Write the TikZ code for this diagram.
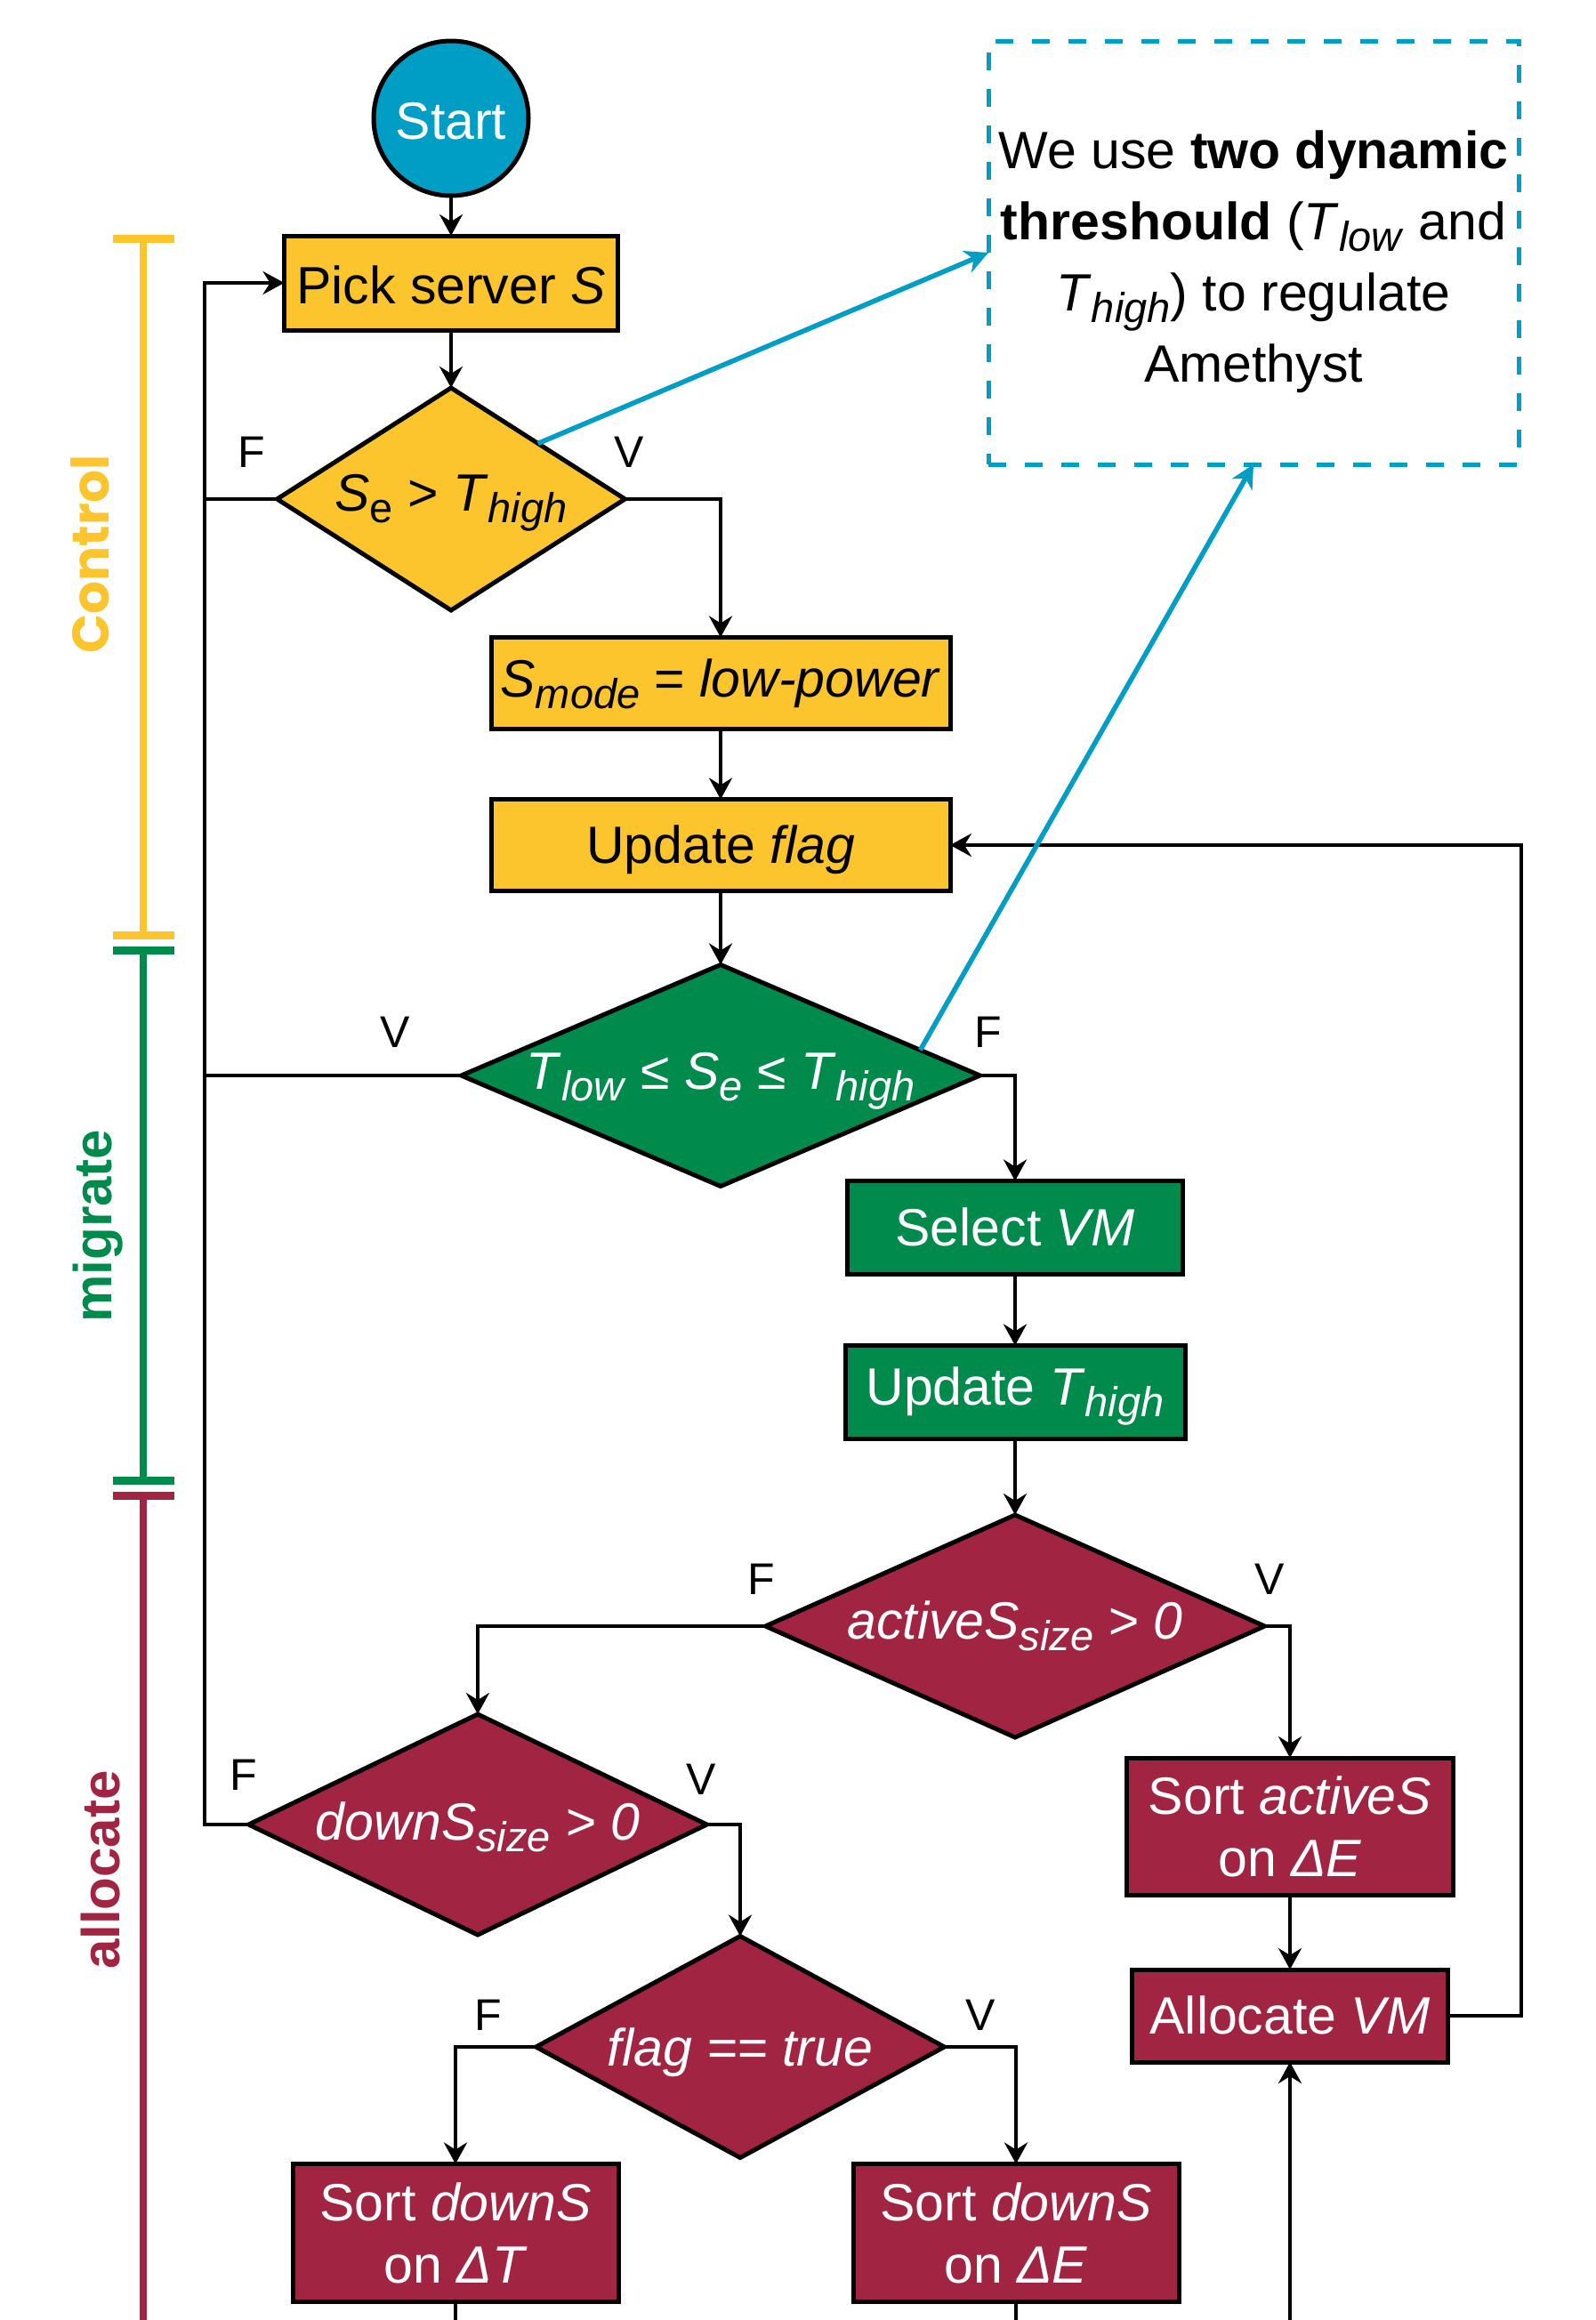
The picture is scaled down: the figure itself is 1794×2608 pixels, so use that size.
\documentclass[tikz,border=0pt]{standalone}
\usepackage{fontspec}
\setmainfont{Liberation Sans}
\newfontfamily\popfont{Poppins}
\usetikzlibrary{shapes.geometric,arrows.meta,calc}

\definecolor{cyel}{RGB}{252,196,45}
\definecolor{cgrn}{RGB}{0,138,76}
\definecolor{cred}{RGB}{161,37,66}
\definecolor{cblu}{RGB}{0,157,196}

\newcommand{\sbs}[1]{\raisebox{-13pt}{\fontsize{47pt}{50pt}\selectfont #1}}
\newcommand{\zw}[1]{\makebox[0pt]{#1}}

\tikzset{
  nbase/.style={draw=black, line width=5pt, inner sep=0pt, outer sep=0pt,
    font=\fontsize{59pt}{70pt}\selectfont},
  rbox/.style={nbase, rectangle},
  dia/.style={nbase, diamond, aspect=1},
  plain/.style={text height=42pt, text depth=2pt},
  fyel/.style={fill=cyel, text=black},
  fgrn/.style={fill=cgrn, text=white},
  fred/.style={fill=cred, text=white},
  conn/.style={line width=4.5pt, -{Stealth[length=24pt,width=26pt,inset=8pt]}},
  lnk/.style={line width=4.5pt},
  tf/.style={font=\fontsize{50pt}{50pt}\selectfont, inner sep=0pt},
  bluarr/.style={draw=cblu, line width=5.5pt, -{Stealth[length=26pt,width=26pt,inset=8pt]}},
  bbar/.style={line width=8pt},
  bcap/.style={line width=9pt},
  side/.style={rotate=90, inner sep=0pt, font=\bfseries\fontsize{60pt}{60pt}\selectfont},
}

\begin{document}
\begin{tikzpicture}[x=1pt, y=-1pt]
\useasboundingbox (0,0) rectangle (1794,2608);
\fill[white] (0,0) rectangle (1794,2608);

% side brackets
\draw[cyel, bbar] (161,268) -- (161,1051);
\draw[cyel, bcap] (127,268) -- (196,268);
\draw[cyel, bcap] (127,1051) -- (196,1051);
\draw[cgrn, bbar] (161,1068) -- (161,1664);
\draw[cgrn, bcap] (127,1068) -- (196,1068);
\draw[cgrn, bcap] (127,1664) -- (196,1664);
\draw[cred, bbar] (161,1681) -- (161,2620);
\draw[cred, bcap] (127,1681) -- (196,1681);

\node[side, text=cyel, font=\popfont\bfseries\fontsize{58pt}{58pt}\selectfont] (lctl) at (101,623) {Control};
\node[side, text=cgrn] (lmig) at (110,1378) {migrate};
\node[side, text=cred] (lall) at (113,2102) {allocate};

% nodes
\node[nbase, circle, fill=cblu, text=white, minimum size=174pt, text height=48pt, text depth=2pt] (start) at (507,133) {Start};
\node[rbox, fyel, minimum width=375pt, minimum height=106pt, text height=48pt, text depth=2pt] (pick) at (507,318) {Pick server \textit{S}};
\node[dia, fyel, minimum width=391pt, minimum height=250pt, text height=42pt, text depth=16pt] (d1) at (507,561)
  {\zw{\textit{S}\sbs{e} > \textit{T}\sbs{\textit{high}}}};
\node[rbox, fyel, minimum width=516pt, minimum height=103pt, text height=42pt, text depth=12pt] (smode) at (810,768)
  {\textit{S}\sbs{\textit{mode}} = \textit{low-power}};
\node[rbox, fyel, plain, minimum width=516pt, minimum height=103pt] (upflag) at (810,950) {Update \textit{flag}};
\node[dia, fgrn, minimum width=583pt, minimum height=249pt, text height=42pt, text depth=12pt] (d2) at (810,1209)
  {\zw{\textit{T}\sbs{\textit{low}} ≤ \textit{S}\sbs{\textit{e}} ≤ \textit{T}\sbs{\textit{high}}}};
\node[rbox, fgrn, plain, minimum width=377pt, minimum height=105pt] (selvm) at (1141,1380) {Select \textit{VM}};
\node[rbox, fgrn, minimum width=382pt, minimum height=105pt, text height=42pt, text depth=14pt] (upth) at (1141,1565)
  {Update \textit{T}\sbs{\textit{high}}};
\node[dia, fred, minimum width=561pt, minimum height=250pt, text height=42pt, text depth=14pt] (d3) at (1141,1828)
  {\zw{\textit{activeS\sbs{size} > 0}}};
\node[rbox, fred, align=center, minimum width=367pt, minimum height=154pt] (sortact) at (1450,2053)
  {Sort \textit{activeS}\\on \textit{ΔE}};
\node[rbox, fred, plain, minimum width=355pt, minimum height=104pt] (alloc) at (1450,2266) {Allocate \textit{VM}};
\node[dia, fred, minimum width=515pt, minimum height=248pt, text height=42pt, text depth=8pt] (d4) at (537,2051)
  {\zw{\textit{downS\sbs{size} > 0}}};
\node[dia, fred, minimum width=459pt, minimum height=249pt, text height=44pt, text depth=2pt] (d5) at (832,2301)
  {\zw{\textit{flag == true}}};
\node[rbox, fred, align=center, minimum width=366pt, minimum height=155pt] (sdT) at (512,2510)
  {Sort \textit{downS}\\on \textit{ΔT}};
\node[rbox, fred, align=center, minimum width=366pt, minimum height=155pt] (sdE) at (1142,2510)
  {Sort \textit{downS}\\on \textit{ΔE}};

\node[draw=cblu, line width=5pt, dash pattern=on 20pt off 21pt, minimum width=596pt, minimum height=476pt,
  inner sep=0pt, outer sep=0pt, align=center, text height=303pt, font=\fontsize{59pt}{80pt}\selectfont] (note) at (1409,284)
  {We use \textbf{two dynamic}\\
   \textbf{threshould} (\textit{T}\sbs{\textit{low}} and\\
   \textit{T}\sbs{\textit{high}}) to regulate\\
   Amethyst};

% F / V labels
\node[tf] (f1) at (283,508) {F};
\node[tf] (v1) at (707,508) {V};
\node[tf] (v2) at (444,1160) {V};
\node[tf] (f2) at (1111,1160) {F};
\node[tf] (f3) at (856,1775) {F};
\node[tf] (v3) at (1427,1775) {V};
\node[tf] (f4) at (274,1995) {F};
\node[tf] (v4) at (788,2000) {V};
\node[tf] (f5) at (549,2265) {F};
\node[tf] (v5) at (1102,2265) {V};

% helper coordinates
\coordinate (rl) at (1710,2266);
\coordinate (ll) at (230,2051);
\coordinate (bT) at (512,2620);
\coordinate (bE) at (1142,2620);
\coordinate (bA) at (1450,2620);

% connectors
\draw[conn] (start.south) -- (pick.north);
\draw[conn] (pick) -- (d1);
\draw[conn] (d1.east) -| (smode.north);
\draw[conn] (smode) -- (upflag);
\draw[conn] (upflag) -- (d2);
\draw[conn] (d2.east) -| (selvm.north);
\draw[conn] (selvm) -- (upth);
\draw[conn] (upth) -- (d3);
\draw[conn] (d3.west) -| (d4.north);
\draw[conn] (d3.east) -| (sortact.north);
\draw[conn] (sortact) -- (alloc);
\draw[conn] (alloc.east) -- (rl) |- (upflag.east);
\draw[conn] (d4.west) -- (ll) |- (pick.west);
\draw[lnk] (d1.west) -- (d1.west -| ll);
\draw[lnk] (d2.west) -- (d2.west -| ll);
\draw[conn] (d4.east) -| (d5.north);
\draw[conn] (d5.west) -| (sdT.north);
\draw[conn] (d5.east) -| (sdE.north);
\draw[lnk] (sdT.south) -- (bT);
\draw[lnk] (sdE.south) -- (bE);
\draw[conn] (bA) -- (alloc.south);

% blue annotation arrows
\draw[bluarr] (d1.north east) -- (note.west);
\draw[bluarr] ($(d2.north)!0.77!(d2.east)$) -- (note.south);
\end{tikzpicture}
\end{document}
